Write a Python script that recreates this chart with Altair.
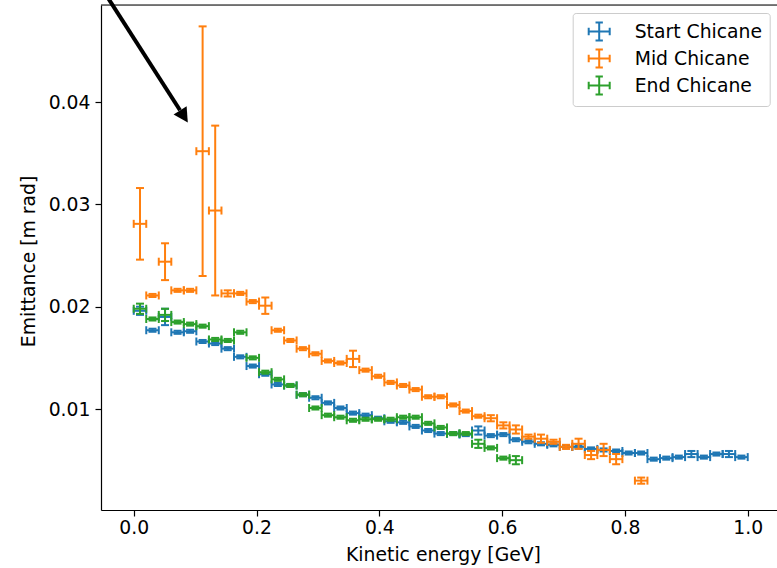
import altair as alt
import pandas as pd

series_names = ["Start Chicane", "Mid Chicane", "End Chicane"]
series_colors = ["#1f77b4", "#ff7f0e", "#2ca02c"]

# bin centres (kinetic energy, GeV); half bin width
bin_centers = [0.0102, 0.0306, 0.0510, 0.0714, 0.0918, 0.1122, 0.1327, 0.1531, 0.1735, 0.1939,
               0.2143, 0.2347, 0.2551, 0.2755, 0.2959, 0.3163, 0.3367, 0.3571, 0.3776, 0.3980,
               0.4184, 0.4388, 0.4592, 0.4796, 0.5000, 0.5204, 0.5408, 0.5612, 0.5816, 0.6020,
               0.6224, 0.6429, 0.6633, 0.6837, 0.7041, 0.7245, 0.7449, 0.7653, 0.7857, 0.8061,
               0.8265, 0.8469, 0.8673, 0.8878, 0.9082, 0.9286, 0.9490, 0.9694, 0.9898]
x_half = 0.0102

start_x = bin_centers
start_y = [0.0196, 0.0177, 0.0190, 0.0175, 0.0176, 0.0166, 0.0164, 0.0159, 0.0151, 0.0142,
           0.0134, 0.0124, 0.0123, 0.0114, 0.0111, 0.0106, 0.0101, 0.0096, 0.0094, 0.0091,
           0.0088, 0.0087, 0.0083, 0.0079, 0.0076, 0.0076, 0.0075, 0.0079, 0.0074, 0.0075,
           0.0070, 0.0068, 0.0066, 0.0065, 0.0063, 0.0063, 0.0061, 0.0060, 0.0059, 0.0057,
           0.0057, 0.0051, 0.0052, 0.0053, 0.0056, 0.0053, 0.0056, 0.0056, 0.0053]
start_err = [0.0004, 0.00015, 0.0008, 0.00015, 0.00015, 0.00015, 0.00015, 0.00015, 0.00015, 0.00015,
             0.00015, 0.00015, 0.00015, 0.00015, 0.00015, 0.00015, 0.00015, 0.00015, 0.00015, 0.00015,
             0.00015, 0.00015, 0.00015, 0.00015, 0.00015, 0.00015, 0.00015, 0.0004, 0.00015, 0.00015,
             0.00015, 0.00015, 0.00015, 0.00015, 0.00015, 0.00015, 0.00015, 0.00015, 0.00015, 0.00015,
             0.00015, 0.00015, 0.00015, 0.00015, 0.0003, 0.00015, 0.00015, 0.0003, 0.00015]

mid_x = bin_centers[:39] + [bin_centers[40]]
mid_y = [0.0281, 0.0211, 0.0244, 0.0216, 0.0216, 0.0352, 0.0294, 0.0213, 0.0213, 0.0205,
         0.0201, 0.0177, 0.0167, 0.0159, 0.0154, 0.0147, 0.0145, 0.0149, 0.0138, 0.0132,
         0.0126, 0.0123, 0.0119, 0.0112, 0.0112, 0.0104, 0.0098, 0.0093, 0.0091, 0.0084,
         0.0080, 0.0073, 0.0071, 0.0068, 0.0063, 0.0066, 0.0055, 0.0060, 0.0051, 0.0030]
mid_err = [0.0035, 0.00015, 0.0018, 0.00015, 0.00015, 0.0122, 0.0083, 0.0003, 0.00015, 0.00015,
           0.0008, 0.00015, 0.00015, 0.00015, 0.00015, 0.00015, 0.00015, 0.0008, 0.00015, 0.00015,
           0.00015, 0.00015, 0.00015, 0.00015, 0.00015, 0.00015, 0.00015, 0.00015, 0.0003, 0.0003,
           0.0004, 0.0002, 0.0004, 0.0002, 0.0002, 0.0005, 0.0004, 0.0006, 0.0005, 0.0003]

end_x = bin_centers[:31]
end_y = [0.0198, 0.0188, 0.0192, 0.0185, 0.0183, 0.0181, 0.0168, 0.0167, 0.0175, 0.0150,
         0.0136, 0.0129, 0.0123, 0.0114, 0.0101, 0.0094, 0.0092, 0.0089, 0.0090, 0.0090,
         0.0090, 0.0092, 0.0092, 0.0086, 0.0082, 0.0076, 0.0076, 0.0066, 0.0062, 0.0052,
         0.0050]
end_err = [0.0005, 0.00015, 0.0006, 0.00015, 0.00015, 0.00015, 0.00015, 0.00015, 0.00015, 0.00015,
           0.00015, 0.00015, 0.00015, 0.00015, 0.00015, 0.00015, 0.00015, 0.00015, 0.00015, 0.00015,
           0.00015, 0.00015, 0.00015, 0.00015, 0.00015, 0.00015, 0.00015, 0.0004, 0.00015, 0.00015,
           0.0004]

# annotation arrow (tail above the axes, shaft end, head centre) in data coordinates
arrow_shaft_x = [-0.0507, 0.0754]
arrow_shaft_y = [0.0510, 0.0392]
arrow_head_x = [0.0818]
arrow_head_y = [0.0386]

FONT = "DejaVu Sans"
FS = 18.8
xscale = alt.Scale(domain=[-0.0533, 1.0477], nice=False, zero=False)
yscale = alt.Scale(domain=[0.00013, 0.04949], nice=False, zero=False)

X_AXIS = alt.Axis(values=[0.0, 0.2, 0.4, 0.6, 0.8, 1.0], format=".1f", title="Kinetic energy [GeV]",
                  grid=False, domainColor="black", domainWidth=1.2, tickColor="black", tickWidth=1.2,
                  tickSize=6, labelFont=FONT, labelFontSize=FS, labelColor="black", labelPadding=2,
                  titleFont=FONT, titleFontSize=FS, titleFontWeight="normal", titleColor="black",
                  titleX=342, titleY=44, titleBaseline="middle", titleAlign="center")
Y_AXIS = alt.Axis(values=[0.01, 0.02, 0.03, 0.04], format=".2f", title="Emittance [m rad]",
                  grid=False, domainColor="black", domainWidth=1.2, tickColor="black", tickWidth=1.2,
                  tickSize=6, labelFont=FONT, labelFontSize=FS, labelColor="black", labelPadding=5,
                  titleFont=FONT, titleFontSize=FS, titleFontWeight="normal", titleColor="black",
                  titleAngle=270, titleX=-73, titleY=256, titleBaseline="middle", titleAlign="center")

LEGEND = alt.Legend(title=None, orient="none", legendX=471.7, legendY=8,
                    symbolType="M-1,0H1M0,-0.85V0.85M-1,-0.35V0.35M1,-0.35V0.35M-0.35,-0.85H0.35M-0.35,0.85H0.35",
                    symbolSize=441, symbolStrokeWidth=2, symbolFillColor="transparent",
                    symbolOffset=8, padding=7, labelOffset=24, labelFontSize=FS, labelFont=FONT,
                    labelColor="black", rowPadding=0, strokeColor="#cccccc", fillColor="white",
                    cornerRadius=3, labelLimit=300)
COLOR = alt.Color("series:N", scale=alt.Scale(domain=series_names, range=series_colors), legend=LEGEND)

LW = 2
CAP = 8


def series_layers(name, xs, ys, errs):
    df = pd.DataFrame({"x": xs, "y": ys, "err": errs})
    df["series"] = name
    df["xlo"] = df["x"] - x_half
    df["xhi"] = df["x"] + x_half
    df["ylo"] = df["y"] - df["err"]
    df["yhi"] = df["y"] + df["err"]
    base = alt.Chart(df)
    h = base.mark_rule(strokeWidth=LW).encode(
        x=alt.X("xlo:Q", scale=xscale, axis=X_AXIS), x2="xhi:Q",
        y=alt.Y("y:Q", scale=yscale, axis=Y_AXIS), color=COLOR)
    v = base.mark_rule(strokeWidth=LW).encode(
        x=alt.X("x:Q", scale=xscale, axis=X_AXIS),
        y=alt.Y("ylo:Q", scale=yscale, axis=Y_AXIS), y2="yhi:Q", color=COLOR)
    caps = []
    for f in ["xlo", "xhi"]:
        caps.append(base.mark_tick(orient="vertical", size=CAP, thickness=LW, opacity=1).encode(
            x=alt.X(f + ":Q", scale=xscale, axis=X_AXIS),
            y=alt.Y("y:Q", scale=yscale, axis=Y_AXIS), color=COLOR))
    for f in ["ylo", "yhi"]:
        caps.append(base.mark_tick(orient="horizontal", size=CAP, thickness=LW, opacity=1).encode(
            x=alt.X("x:Q", scale=xscale, axis=X_AXIS),
            y=alt.Y(f + ":Q", scale=yscale, axis=Y_AXIS), color=COLOR))
    return [h, v] + caps


layers = []
layers += series_layers(series_names[0], start_x, start_y, start_err)
layers += series_layers(series_names[1], mid_x, mid_y, mid_err)
layers += series_layers(series_names[2], end_x, end_y, end_err)

top_spine = alt.Chart(pd.DataFrame({"a": [0]})).mark_rule(color="black", strokeWidth=1.2).encode(
    x=alt.value(0), x2=alt.value(676), y=alt.value(0))

shaft = alt.Chart(pd.DataFrame({"x": arrow_shaft_x, "y": arrow_shaft_y})).mark_line(
    color="black", strokeWidth=4, clip=False).encode(
    x=alt.X("x:Q", scale=xscale, axis=X_AXIS), y=alt.Y("y:Q", scale=yscale, axis=Y_AXIS))
head = alt.Chart(pd.DataFrame({"x": arrow_head_x, "y": arrow_head_y})).mark_point(
    shape="M0,-1L1.09,1L-1.09,1Z", size=202, angle=147.3, filled=True, color="black",
    opacity=1, strokeWidth=0).encode(
    x=alt.X("x:Q", scale=xscale, axis=X_AXIS), y=alt.Y("y:Q", scale=yscale, axis=Y_AXIS))

chart = alt.layer(*layers, top_spine, shaft, head).properties(
    width=676, height=505,
    autosize=alt.AutoSizeParams(type="none"),
    padding={"left": 101, "top": 5, "right": 0, "bottom": 58},
).configure_view(stroke=None).configure(background="white")

chart.save("out.html", embed_options={"renderer": "svg", "actions": False})
